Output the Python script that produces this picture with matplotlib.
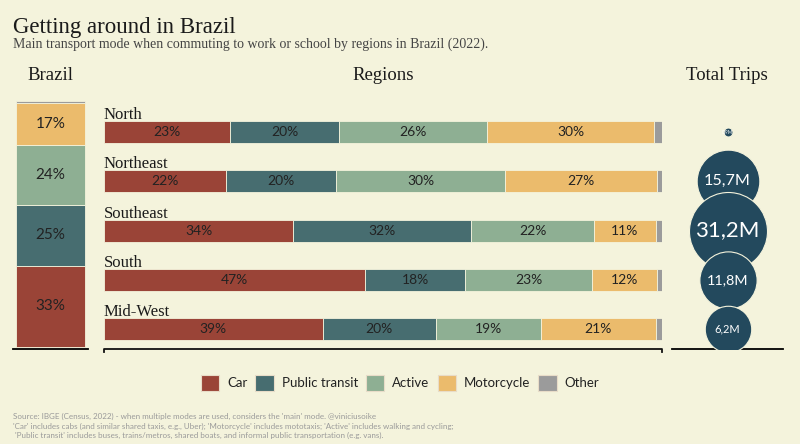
import matplotlib.pyplot as plt
from matplotlib.patches import Patch
import numpy as np

# dados (%)
modos = ['Car', 'Public transit', 'Active', 'Motorcycle', 'Other']
brasil = [32.8, 25.0, 24.2, 17.2, 0.8]

regioes = ['North', 'Northeast', 'Southeast', 'South', 'Mid-West']
car = [22.6, 21.9, 33.9, 46.8, 39.2]
transit = [19.6, 19.7, 31.9, 17.9, 20.3]
active = [26.4, 30.3, 22.0, 22.8, 18.8]
moto = [30.0, 27.2, 11.1, 11.6, 20.6]
other = [1.4, 0.9, 1.1, 0.9, 1.1]

viagens = [0.9, 15.7, 31.2, 11.8, 6.2]  # milhoes
viagens_txt = ['0,9M', '15,7M', '31,2M', '11,8M', '6,2M']

fundo = '#F4F3DC'
cores = ['#9A4437', '#476D70', '#8EAF93', '#EBBB6C', '#9B9B9B']
cor_bolha = '#23495D'
serif = 'Liberation Serif'
sans = 'Lato'

W, H = 800, 444
fig = plt.figure(figsize=(8, 4.44), dpi=100, facecolor=fundo)

def caixa(x0, y0, x1, y1):
    # pixels (topo) -> coordenadas da figura
    return [x0 / W, 1 - y1 / H, (x1 - x0) / W, (y1 - y0) / H]

# titulo
fig.text(13 / W, 1 - 33 / H, 'Getting around in Brazil', family=serif, fontsize=16.5, color='#1a1a1a')
fig.text(13 / W, 1 - 48 / H, 'Main transport mode when commuting to work or school by regions in Brazil (2022).',
         family=serif, fontsize=10, color='#444444')

for txt, xc in [('Brazil', 50), ('Regions', 383), ('Total Trips', 727)]:
    fig.text(xc / W, 1 - 75 / H, txt, family=serif, fontsize=13.5, color='#1a1a1a', ha='center', va='center')

# --- Brasil ---
ax1 = fig.add_axes(caixa(13, 100, 88, 349))
ax1.set_facecolor(fundo)
base = 0
for v, c in zip(brasil, cores):
    ax1.bar(0, v, bottom=base, width=0.907, color=c, edgecolor=fundo, linewidth=0.6)
    if v > 5:
        ax1.text(0, base + v / 2, f'{round(v)}%', ha='center', va='center', family=sans, fontsize=11, color='#222222')
    base += v
ax1.set_xlim(-0.5, 0.5)
ax1.set_ylim(-1, 100.5)
ax1.set_xticks([])
ax1.set_yticks([])
for s in ['top', 'left', 'right']:
    ax1.spines[s].set_visible(False)
ax1.spines['bottom'].set_linewidth(1.3)

# --- Regioes ---
ax2 = fig.add_axes(caixa(104, 100, 662, 349))
ax2.set_facecolor('none')
y = np.arange(len(regioes))
esq = np.zeros(len(regioes))
for serie, c, nome in zip([car, transit, active, moto, other], cores, modos):
    serie = np.array(serie)
    ax2.barh(y, serie, left=esq, height=0.447, color=c, edgecolor=fundo, linewidth=0.6)
    if nome != 'Other':
        for yi, l, v in zip(y, esq, serie):
            ax2.text(l + v / 2, yi, f'{round(v)}%', ha='center', va='center', family=sans, fontsize=10, color='#222222')
    esq += serie
for yi, nome in zip(y, regioes):
    ax2.text(0, yi - 0.26, nome, ha='left', va='baseline', family=serif, fontsize=12, color='#1a1a1a')
ax2.set_xlim(0, 100)
ax2.set_ylim(4.406, -0.65)
ax2.axis('off')
ax2.plot([0, 0, 1, 1], [-0.013, 0, 0, -0.013], transform=ax2.transAxes, color='#111111', lw=1.3, clip_on=False)

# --- Total de viagens ---
ax3 = fig.add_axes(caixa(672, 100, 783, 349))
ax3.set_facecolor('none')
v = np.array(viagens)
norm = (v - v.min()) / (v.max() - v.min())
raio = 4.5 + 34.5 * norm ** 0.35  # px
tam = (2 * raio * 0.72) ** 2
fs = 3.5 + 12.5 * norm ** 0.6
for yi, s, t, f in zip(y, tam, viagens_txt, fs):
    ax3.scatter(0, yi, s=s, color=cor_bolha, edgecolor=fundo, linewidth=0.8, zorder=2 + yi)
    ax3.text(0, yi, t, ha='center', va='center', family=sans, fontsize=f, color='white', zorder=3 + yi)
ax3.set_xlim(-1, 1)
ax3.set_ylim(4.406, -0.65)
ax3.set_xticks([])
ax3.set_yticks([])
for s in ['top', 'left', 'right']:
    ax3.spines[s].set_visible(False)
ax3.spines['bottom'].set_linewidth(1.3)

# legenda
handles = [Patch(facecolor=c, edgecolor='#e8dcc8', linewidth=0.8, label=m) for c, m in zip(cores, modos)]
fig.legend(handles=handles, loc='center', bbox_to_anchor=(0.5, 1 - 383 / H), ncol=5, frameon=False,
           prop={'family': sans, 'size': 9.5}, handlelength=1.4, handleheight=1.4,
           handletextpad=0.6, columnspacing=0.6, labelcolor='#222222')

# fonte
nota = ("Source: IBGE (Census, 2022) - when multiple modes are used, considers the 'main' mode. @viniciusoike\n"
        "'Car' includes cabs (and similar shared taxis, e.g., Uber); 'Motorcycle' includes mototaxis; 'Active' includes walking and cycling;\n"
        " 'Public transit' includes buses, trains/metros, shared boats, and informal public transportation (e.g. vans).")
fig.text(13 / W, 1 - 413 / H, nota, family=sans, fontsize=5.8, color='#9a9a9a', va='top', linespacing=1.4)

fig.savefig('out.png', dpi=100, facecolor=fundo)
